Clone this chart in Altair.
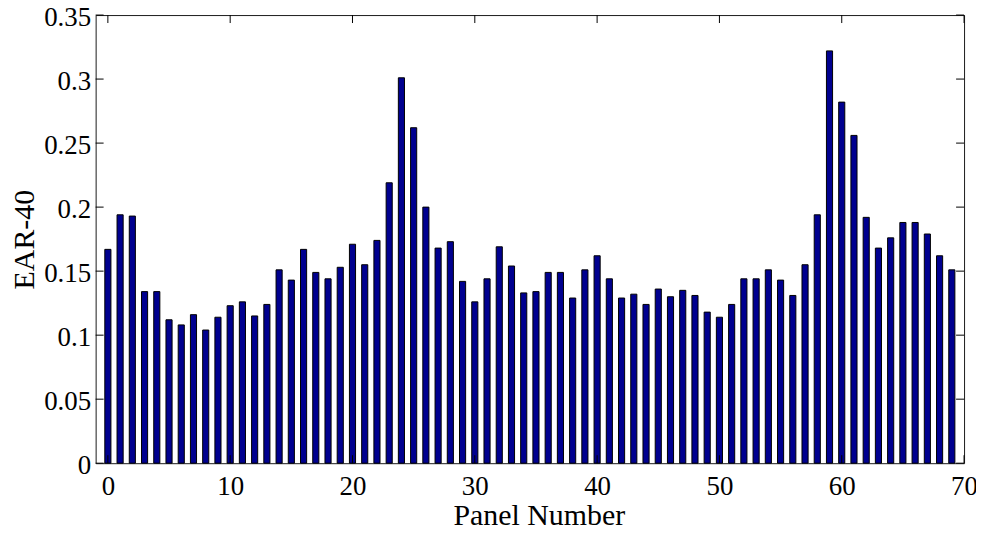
import altair as alt
import pandas as pd

panels = list(range(70))
ear40 = [
    0.167, 0.194, 0.193, 0.134, 0.134, 0.112, 0.108, 0.116, 0.104, 0.114,
    0.123, 0.126, 0.115, 0.124, 0.151, 0.143, 0.167, 0.149, 0.144, 0.153,
    0.171, 0.155, 0.174, 0.219, 0.301, 0.262, 0.200, 0.168, 0.173, 0.142,
    0.126, 0.144, 0.169, 0.154, 0.133, 0.134, 0.149, 0.149, 0.129, 0.151,
    0.162, 0.144, 0.129, 0.132, 0.124, 0.136, 0.130, 0.135, 0.131, 0.118,
    0.114, 0.124, 0.144, 0.144, 0.151, 0.143, 0.131, 0.155, 0.194, 0.322,
    0.282, 0.256, 0.192, 0.168, 0.176, 0.188, 0.188, 0.179, 0.162, 0.151,
]
x_ticks = [0, 10, 20, 30, 40, 50, 60, 70]
y_ticks = [0, 0.05, 0.1, 0.15, 0.2, 0.25, 0.3, 0.35]

W, H = 872, 450
TL = 8
FONT = "Liberation Serif"

xscale = alt.Scale(domain=[-1, 70], nice=False, zero=False)
yscale = alt.Scale(domain=[0, 0.35], nice=False, zero=True)

df = pd.DataFrame({"panel": panels, "ear": ear40})
xt = pd.DataFrame({"t": x_ticks})
yt = pd.DataFrame({"t": y_ticks})

bars = alt.Chart(df).transform_calculate(
    x0="datum.panel - 0.25", x1="datum.panel + 0.25"
).mark_bar(color="#00008F", stroke="#000000", strokeWidth=1).encode(
    x=alt.X("x0:Q", scale=xscale,
            axis=alt.Axis(values=x_ticks, title="Panel Number", format="d",
                          labelPadding=10, titleX=445, titleY=62,
                          titleBaseline="alphabetic", titleFontSize=30)),
    x2="x1:Q",
    y=alt.Y("ear:Q", scale=yscale,
            axis=alt.Axis(values=y_ticks, title="EAR-40", format="~g",
                          labelPadding=5, labelOffset=2, titleX=-71, titleY=225,
                          titleAngle=270, titleBaseline="middle", titleFontSize=30)),
    y2=alt.datum(0),
)

top_ticks = alt.Chart(xt).mark_rule(color="#000000", strokeWidth=1).encode(
    x=alt.X("t:Q", scale=xscale, axis=None), y=alt.value(0), y2=alt.value(TL))
bottom_ticks = alt.Chart(xt).mark_rule(color="#000000", strokeWidth=1).encode(
    x=alt.X("t:Q", scale=xscale, axis=None), y=alt.value(H), y2=alt.value(H - TL))
left_ticks = alt.Chart(yt).mark_rule(color="#000000", strokeWidth=1).encode(
    y=alt.Y("t:Q", scale=yscale, axis=None), x=alt.value(0), x2=alt.value(TL))
right_ticks = alt.Chart(yt).mark_rule(color="#000000", strokeWidth=1).encode(
    y=alt.Y("t:Q", scale=yscale, axis=None), x=alt.value(W - TL), x2=alt.value(W))

chart = alt.layer(bars, top_ticks, bottom_ticks, left_ticks, right_ticks).resolve_axis(
    x="independent", y="independent"
).properties(
    width=W, height=H,
    padding={"left": 88, "top": 6, "right": 12, "bottom": 67},
    autosize=alt.AutoSizeParams(type="none"),
    background="#ffffff",
).configure_view(
    stroke="#1a1a1a", strokeWidth=1
).configure_axis(
    labelFont=FONT, titleFont=FONT, labelFontSize=27, labelColor="#000000",
    titleColor="#000000", titleFontWeight="normal", ticks=False, tickSize=0,
    domain=False, grid=False, labelFlush=False, labelOverlap=False,
)

chart.save("out.html", embed_options={"renderer": "svg", "actions": False})
